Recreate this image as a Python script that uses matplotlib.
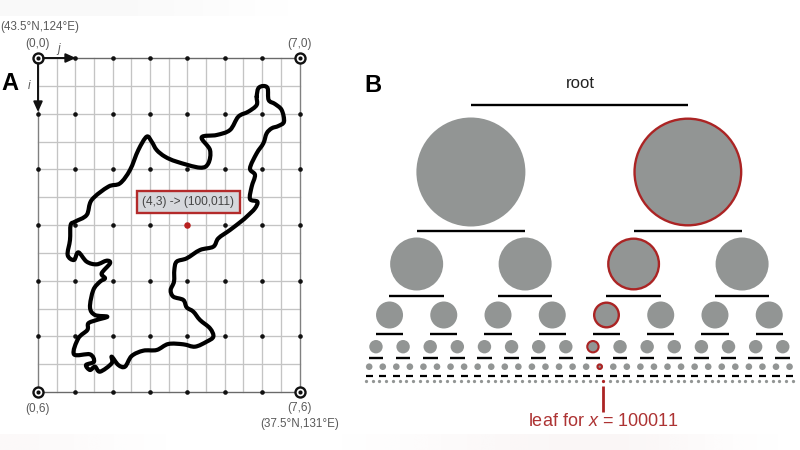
import numpy as np
import matplotlib
matplotlib.use("Agg")
import matplotlib.pyplot as plt
from matplotlib.patches import Circle, Rectangle, PathPatch
from matplotlib.path import Path

plt.rcParams['font.family'] = ['Liberation Sans', 'DejaVu Sans']
plt.rcParams['mathtext.fontset'] = 'custom'
plt.rcParams['mathtext.it'] = 'Liberation Sans:italic'
plt.rcParams['mathtext.rm'] = 'Liberation Sans'

# ---- data -------------------------------------------------------------
n_cols = 8
n_rows = 7
corner_labels = ["(0,0)", "(7,0)", "(0,6)", "(7,6)"]
geo_labels = ["(43.5°N,124°E)", "(37.5°N,131°E)"]
box_label = "(4,3) -> (100,011)"
highlight_cell = (4, 3)
root_label = "root"
leaf_bits = "100011"
leaf_label = r"leaf for $\mathit{x}$ = 100011"
panel_labels = ["A", "B"]

# outline, in thirds of an output pixel
outline_x = [770, 775, 790, 803, 806, 825, 845, 852, 835, 815, 800, 790, 770, 750, 765, 755, 750, 772, 765, 740, 725,
             690, 655, 640, 600, 560, 530, 523, 522, 512, 520, 550, 560, 580, 600, 630, 640, 620, 585, 550, 505,
             470, 430, 395, 375, 355, 335, 335, 300, 285, 270, 258, 282, 270, 222, 235, 262, 265, 290, 322, 285,
             270, 280, 300, 315, 305, 330, 320, 290, 260, 235, 222, 203, 210, 212, 225, 260, 275, 325, 360, 390,
             415, 440, 455, 470, 495, 530, 600, 625, 630, 605, 650, 690, 715, 745, 770, 770]
outline_y = [290, 265, 258, 265, 300, 312, 330, 365, 378, 385, 400, 430, 460, 505, 525, 560, 597, 605, 625, 650, 663,
             690, 715, 740, 750, 775, 785, 810, 845, 870, 890, 900, 922, 935, 960, 985, 1010, 1025, 1040, 1033, 1032,
             1050, 1052, 1068, 1100, 1095, 1070, 1090, 1115, 1100, 1110, 1095, 1085, 1063, 1063, 1015, 990, 970, 960, 950, 945,
             922, 870, 845, 835, 820, 790, 782, 793, 785, 757, 780, 765, 720, 675, 665, 645, 600, 560, 550, 510,
             450, 410, 425, 450, 470, 485, 503, 490, 450, 412, 405, 390, 350, 335, 315, 290]

RED = "#ab2424"
GREY = "#929594"
TXT = "#5a5a5a"

fig = plt.figure(figsize=(8, 4.5), dpi=100)
ax = fig.add_axes([0, 0, 1, 1])
ax.set_xlim(0, 800)
ax.set_ylim(450, 0)
ax.axis("off")

def band(x0, x1, y0, y1, prof, col):
    rgba = np.ones((1, len(prof), 4))
    rgba[..., :3] = matplotlib.colors.to_rgb(col)
    rgba[..., 3] = prof
    ax.imshow(rgba, extent=(x0, x1, y1, y0), aspect="auto", interpolation="bicubic", zorder=0)
band(0, 325, 0, 16, [.05, .05, .04, .02, 0], "#888888")
band(0, 800, 434, 450, [.04, 0, 0, .0, .03, .06, .06, .0], "#aa6666")
ax.set_xlim(0, 800)
ax.set_ylim(450, 0)

# ---- panel A ----------------------------------------------------------
xs = np.linspace(38, 299.5, n_cols)
ys = np.linspace(58, 392, n_rows)
xh = np.linspace(38, 299.5, 2 * n_cols - 1)
yh = np.linspace(58, 392, 2 * n_rows - 1)
for x in xh:
    ax.plot([x, x], [58, 392], color="#c4c4c4", lw=0.95, zorder=1)
for y in yh:
    ax.plot([38, 299.5], [y, y], color="#c4c4c4", lw=0.95, zorder=1)
for x in (38, 299.5):
    ax.plot([x, x], [58, 392], color="#808080", lw=0.9, zorder=1.5)
for y in (58, 392):
    ax.plot([38, 299.5], [y, y], color="#6a6a6a", lw=0.9, zorder=1.5)

gx, gy = np.meshgrid(xs, ys)
ax.scatter(gx.ravel(), gy.ravel(), s=11, color="#111111", lw=0, zorder=2)
ax.scatter([xs[highlight_cell[0]]], [ys[highlight_cell[1]]], s=22, color="#b8201f", lw=0, zorder=3)

# outline drawn as a smooth curve through the read points
P = np.column_stack([outline_x, outline_y]) / 3
Q = P[:-1]
n = len(Q)
verts, codes = [tuple(Q[0])], [Path.MOVETO]
for k in range(n):
    p0, p1, p2, p3 = Q[(k - 1) % n], Q[k], Q[(k + 1) % n], Q[(k + 2) % n]
    verts += [tuple(p1 + (p2 - p0) / 6), tuple(p2 - (p3 - p1) / 6), tuple(p2)]
    codes += [Path.CURVE4] * 3
ax.add_patch(PathPatch(Path(verts, codes), facecolor="none", edgecolor="black", lw=3.0,
                       capstyle="round", joinstyle="round", zorder=4))

for cx, cy in [(xs[0], ys[0]), (xs[-1], ys[0]), (xs[0], ys[-1]), (xs[-1], ys[-1])]:
    ax.scatter([cx], [cy], s=52, facecolor="white", edgecolor="#111111", lw=1.7, zorder=5)
    ax.scatter([cx], [cy], s=9, color="#111111", lw=0, zorder=6)

for start, end in [((43, 58), (76, 58)), ((38, 63), (38, 112))]:
    ax.annotate("", xy=end, xytext=start, zorder=7,
                arrowprops=dict(arrowstyle="-|>,head_length=0.6,head_width=0.27", color="#111111",
                                lw=1.4, shrinkA=0, shrinkB=0))

fs = 8.5
ax.text(38, 44, corner_labels[0], ha="center", va="center", fontsize=fs, color=TXT)
ax.text(299.5, 44, corner_labels[1], ha="center", va="center", fontsize=fs, color=TXT)
ax.text(38, 409, corner_labels[2], ha="center", va="center", fontsize=fs, color=TXT)
ax.text(299.5, 408, corner_labels[3], ha="center", va="center", fontsize=fs, color=TXT)
ax.text(0, 27, geo_labels[0], ha="left", va="center", fontsize=8.4, color=TXT)
ax.text(299.5, 424, geo_labels[1], ha="center", va="center", fontsize=8.4, color=TXT)
ax.text(58.5, 49, "j", ha="center", va="center", fontsize=fs, color=TXT, style="italic")
ax.text(29, 86, "i", ha="center", va="center", fontsize=fs, color=TXT, style="italic")
ax.text(10, 84, panel_labels[0], ha="center", va="center", fontsize=17, color="black", weight="bold")
ax.text(373, 85, panel_labels[1], ha="center", va="center", fontsize=17, color="black", weight="bold")

ax.add_patch(Rectangle((136.5, 190.5), 103, 22.5, facecolor="#d6d8dc", edgecolor="#b32a2a", lw=1.7, zorder=8))
ax.text(188, 202, box_label, ha="center", va="center", fontsize=8.6, color="#444444", zorder=9)

# ---- panel B ----------------------------------------------------------
depths = len(leaf_bits)
first_leaf = 365.8
leaf_step = 6.78
n_leaf = 2 ** depths
leaf_x = first_leaf + leaf_step * np.arange(n_leaf)
level_y = [172, 264, 315, 346.7, 366.7, 381.3]
level_r = [54.5, 26.5, 13.5, 6.7, 3.3, 1.6]
bar_y = [105, 231, 296, 333.7, 357.5, 375.7]
bar_half = [108.5, 54, 27.3, 13.7, 7.3, 3.6]
bar_lw = [1.7, 1.7, 1.7, 1.7, 1.7, 1.6]

for lev in range(depths):
    n = 2 ** (lev + 1)
    block = n_leaf // n
    centers = leaf_x.reshape(n, block).mean(axis=1)
    parents = centers.reshape(-1, 2).mean(axis=1)
    red_idx = int(leaf_bits[:lev + 1], 2)
    for i, c in enumerate(centers):
        hit = i == red_idx
        if lev == depths - 1:
            ax.scatter([c], [level_y[lev]], s=5.5, color=RED if hit else GREY, lw=0, zorder=3)
        else:
            lw = (1.7 if lev < 3 else 1.5) if hit else 0
            r = level_r[lev] - (lw * 100 / 72 / 2 if hit else 0)
            ax.add_patch(Circle((c, level_y[lev]), r, facecolor=GREY,
                                edgecolor=RED if hit else "none", lw=lw, zorder=3))
    for p in parents:
        ax.plot([p - bar_half[lev], p + bar_half[lev]], [bar_y[lev]] * 2, color="black",
                lw=bar_lw[lev], solid_capstyle="butt", zorder=2)

ax.text(580, 84, root_label, ha="center", va="center", fontsize=12, color="#222222")
lx = leaf_x[int(leaf_bits, 2)]
ax.plot([lx, lx], [386, 412], color=RED, lw=2.0, solid_capstyle="butt", zorder=3)
ax.text(603, 421.5, leaf_label, ha="center", va="center", fontsize=13, color="#ad3333")

fig.savefig("out.png", dpi=100)
